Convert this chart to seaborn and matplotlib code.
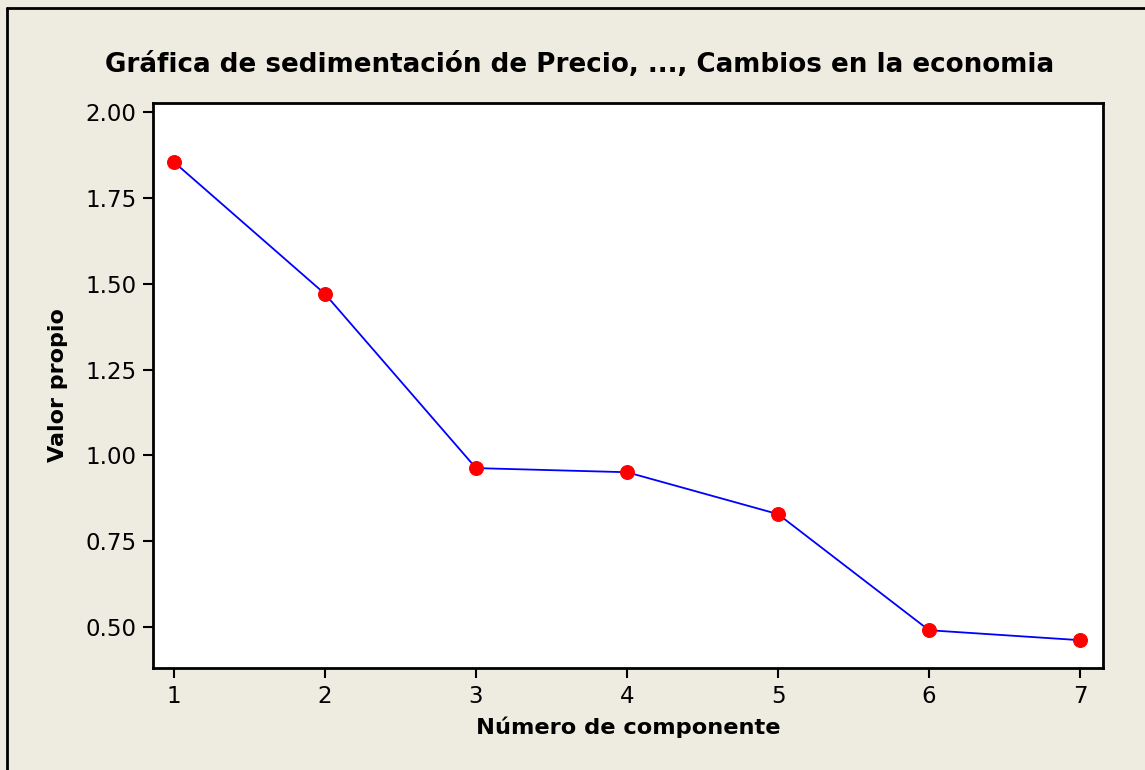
import pandas as pd
import matplotlib
matplotlib.use('Agg')
import matplotlib.pyplot as plt
import seaborn as sns
from matplotlib.lines import Line2D

# datos de la grafica de sedimentacion
componentes = [1, 2, 3, 4, 5, 6, 7]
valores_propios = [1.854, 1.470, 0.963, 0.951, 0.829, 0.491, 0.462]
yticks = [0.50, 0.75, 1.00, 1.25, 1.50, 1.75, 2.00]

df = pd.DataFrame({'comp': componentes, 'valor': valores_propios})

sns.set_style('white')
plt.rcParams['font.family'] = ['DejaVu Sans']
plt.rcParams['text.color'] = 'black'
plt.rcParams['axes.labelcolor'] = 'black'

fondo = '#EEEBE0'
fig = plt.figure(figsize=(11.45, 7.70), dpi=100, facecolor=fondo)
ax = fig.add_axes([153/1145, 1 - 668/770, (1103-153)/1145, (668-103)/770])
ax.set_facecolor('white')

sns.lineplot(data=df, x='comp', y='valor', ax=ax, color='#0000FF', linewidth=1.3,
             marker='o', markersize=10, markerfacecolor='#FF0000',
             markeredgecolor='#FF0000')

ax.set_xlim(0.861, 7.152)
ax.set_ylim(0.381, 2.026)
ax.set_xticks(componentes)
ax.set_yticks(yticks)
ax.set_yticklabels([f'{v:.2f}' for v in yticks])
ax.tick_params(axis='both', direction='out', length=7, width=1.5, labelsize=16.5,
               colors='black', left=True, bottom=True, pad=5)
for s in ax.spines.values():
    s.set_color('black')
    s.set_linewidth(2)

ax.set_xlabel('Número de componente', fontsize=16.2, fontweight='bold', labelpad=6, color='black')
ax.set_ylabel('Valor propio', fontsize=16, fontweight='bold', labelpad=12, color='black')
fig.text(580/1145, 1 - 65/770, 'Gráfica de sedimentación de Precio, ..., Cambios en la economia',
         ha='center', va='center', fontsize=18.8, fontweight='bold', color='black')

# marco exterior (solo se ven el borde izquierdo y el superior)
x0 = 7/1145
y0 = 1 - 8/770
fig.add_artist(Line2D([x0, x0], [0, y0], transform=fig.transFigure, color='black', linewidth=2))
fig.add_artist(Line2D([x0, 1], [y0, y0], transform=fig.transFigure, color='black', linewidth=2))

fig.savefig('out.png', dpi=100, facecolor=fondo)
